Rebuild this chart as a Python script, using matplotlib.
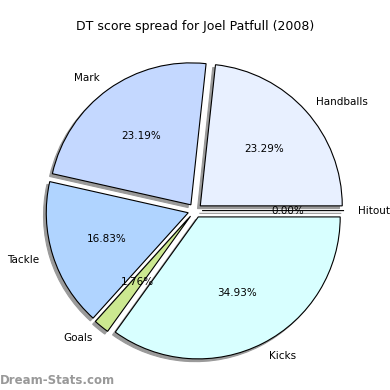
import matplotlib
matplotlib.use('Agg')
import matplotlib.pyplot as plt

# score categories and shares (percent)
labels = ['Hitout', 'Handballs', 'Mark', 'Tackle', 'Goals', 'Kicks']
shares = [0.0, 23.29, 23.19, 16.83, 1.76, 34.93]
colors = ['#ffffff', '#e8f0ff', '#c4d8ff', '#b0d4ff', '#cce890', '#d8ffff']

fig = plt.figure(figsize=(3.9, 3.9), dpi=100)
ax = fig.add_axes([0.035, 0.005, 0.93, 0.91])

explode = [0.05] * len(shares)
shadow = {'ox': -0.014, 'oy': -0.014, 'facecolor': '#9a9a9a',
          'edgecolor': '#9a9a9a', 'alpha': 1.0}
wedges, texts, autotexts = ax.pie(shares, labels=labels, colors=colors,
                                  explode=explode, autopct='%1.2f%%',
                                  shadow=shadow, startangle=0,
                                  wedgeprops=dict(edgecolor='black', linewidth=0.8),
                                  textprops=dict(fontsize=7.5))
ax.set_aspect('equal')

fig.text(0.5, 0.922, 'DT score spread for Joel Patfull (2008)',
         ha='center', fontsize=9)
fig.text(0.0, 0.015, 'Dream-Stats.com', color='#999999', fontsize=8.5,
         fontweight='bold')

fig.savefig('out.png', dpi=100)
